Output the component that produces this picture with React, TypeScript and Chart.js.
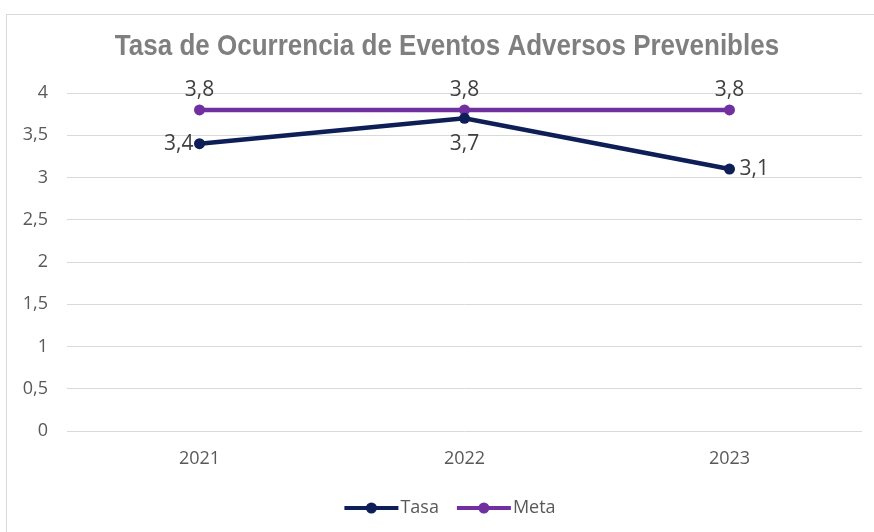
import React, { useEffect, useRef } from "react";
import { Chart, registerables } from "chart.js";

Chart.register(...registerables);

const TITLE = "Tasa de Ocurrencia de Eventos Adversos Prevenibles";
const CATEGORIES = ["2021", "2022", "2023"];
const TASA = [3.4, 3.7, 3.1];
const META = [3.8, 3.8, 3.8];
const SERIES_NAMES = ["Tasa", "Meta"];
const Y_MIN = 0;
const Y_MAX = 4;
const Y_STEP = 0.5;

const TASA_COLOR = "#0e1e57";
const META_COLOR = "#7030a0";
const FONT = "'Open Sans', 'Liberation Sans', sans-serif";

const fmt = (v: number) => String(v).replace(".", ",");

const overlayPlugin = {
  id: "overlay",
  afterDatasetsDraw(chart: any) {
    const ctx = chart.ctx;
    ctx.save();
    ctx.font = `21px ${FONT}`;
    ctx.fillStyle = "#404040";
    const m0 = chart.getDatasetMeta(0);
    m0.data.forEach((pt: any, i: number) => {
      const v = chart.data.datasets[0].data[i];
      let x = pt.x, y = pt.y;
      ctx.textBaseline = "middle";
      if (i === 0) {
        ctx.textAlign = "right";
        x -= 6;
      } else if (i === 1) {
        ctx.textAlign = "center";
        y += 26;
      } else {
        ctx.textAlign = "left";
        x += 10;
      }
      ctx.fillText(fmt(v), x, y);
    });
    const m1 = chart.getDatasetMeta(1);
    m1.data.forEach((pt: any, i: number) => {
      const v = chart.data.datasets[1].data[i];
      ctx.textAlign = "center";
      ctx.textBaseline = "middle";
      ctx.fillText(fmt(v), pt.x, pt.y - 20);
    });
    ctx.restore();
  },
  afterDraw(chart: any) {
    const ctx = chart.ctx;
    ctx.save();
    ctx.font = "bold 26px 'Liberation Sans', Arial, sans-serif";
    ctx.fillStyle = "#7f7f7f";
    ctx.textAlign = "center";
    ctx.textBaseline = "middle";
    ctx.save();
    ctx.translate(447, 47);
    ctx.scale(1, 1.1);
    ctx.fillText(TITLE, 0, 0);
    ctx.restore();
    ctx.font = `18px ${FONT}`;
    ctx.textAlign = "left";
    ctx.textBaseline = "middle";
    const colors = [TASA_COLOR, META_COLOR];
    const ly = 508;
    const lineLen = 54;
    const widths = SERIES_NAMES.map((n) => ctx.measureText(n).width);
    const gap = 18;
    const total = widths.reduce((a, w) => a + lineLen + 2 + w, 0) + gap;
    let x = 450 - total / 2;
    SERIES_NAMES.forEach((name, i) => {
      ctx.strokeStyle = colors[i];
      ctx.lineWidth = 4;
      ctx.beginPath();
      ctx.moveTo(x, ly);
      ctx.lineTo(x + lineLen, ly);
      ctx.stroke();
      ctx.fillStyle = colors[i];
      ctx.beginPath();
      ctx.arc(x + lineLen / 2, ly, 5.5, 0, Math.PI * 2);
      ctx.fill();
      ctx.fillStyle = "#595959";
      ctx.fillText(name, x + lineLen + 2, ly);
      x += lineLen + 2 + widths[i] + gap;
    });
    ctx.restore();
  },
};

export default function App() {
  const ref = useRef<HTMLCanvasElement>(null);
  useEffect(() => {
    if (!ref.current) return;
    const chart = new Chart(ref.current, {
      type: "line",
      data: {
        labels: CATEGORIES,
        datasets: [
          {
            label: SERIES_NAMES[0],
            data: TASA,
            borderColor: TASA_COLOR,
            backgroundColor: TASA_COLOR,
            borderWidth: 4.5,
            pointRadius: 5.5,
            pointHoverRadius: 5.5,
            pointBorderWidth: 0,
            tension: 0,
          },
          {
            label: SERIES_NAMES[1],
            data: META,
            borderColor: META_COLOR,
            backgroundColor: META_COLOR,
            borderWidth: 4.5,
            pointRadius: 5.5,
            pointHoverRadius: 5.5,
            pointBorderWidth: 0,
            tension: 0,
          },
        ],
      },
      options: {
        animation: false,
        responsive: false,
        maintainAspectRatio: false,
        layout: { padding: { left: 0, right: 12, top: 93, bottom: 58 } },
        plugins: {
          legend: { display: false },
          title: { display: false },
          tooltip: { enabled: false },
        },
        scales: {
          x: {
            offset: true,
            grid: { display: false, drawTicks: false },
            border: { display: false },
            ticks: {
              padding: 17,
              color: "#595959",
              font: { family: FONT, size: 18 },
            },
            afterFit: (s: any) => {
              s.height = 43;
            },
          },
          y: {
            min: Y_MIN,
            max: Y_MAX,
            grid: { color: "#d9d9d9", drawTicks: false, lineWidth: 1 },
            border: { display: false },
            ticks: {
              stepSize: Y_STEP,
              padding: 19,
              color: "#595959",
              font: { family: FONT, size: 18 },
              callback: (v: any) => fmt(Number(v)),
            },
            afterFit: (s: any) => {
              s.width = 67;
            },
          },
        },
      },
      plugins: [overlayPlugin],
    });
    return () => chart.destroy();
  }, []);
  return (
    <div style={{ position: "absolute", left: 0, top: 0, width: 874, height: 532, background: "#fff" }}>
      <div
        style={{
          position: "absolute",
          left: 6,
          top: 14,
          width: 900,
          height: 600,
          border: "1px solid #d9d9d9",
        }}
      />
      <canvas ref={ref} width={874} height={532} style={{ position: "absolute", left: 0, top: 0, width: 874, height: 532 }} />
    </div>
  );
}
